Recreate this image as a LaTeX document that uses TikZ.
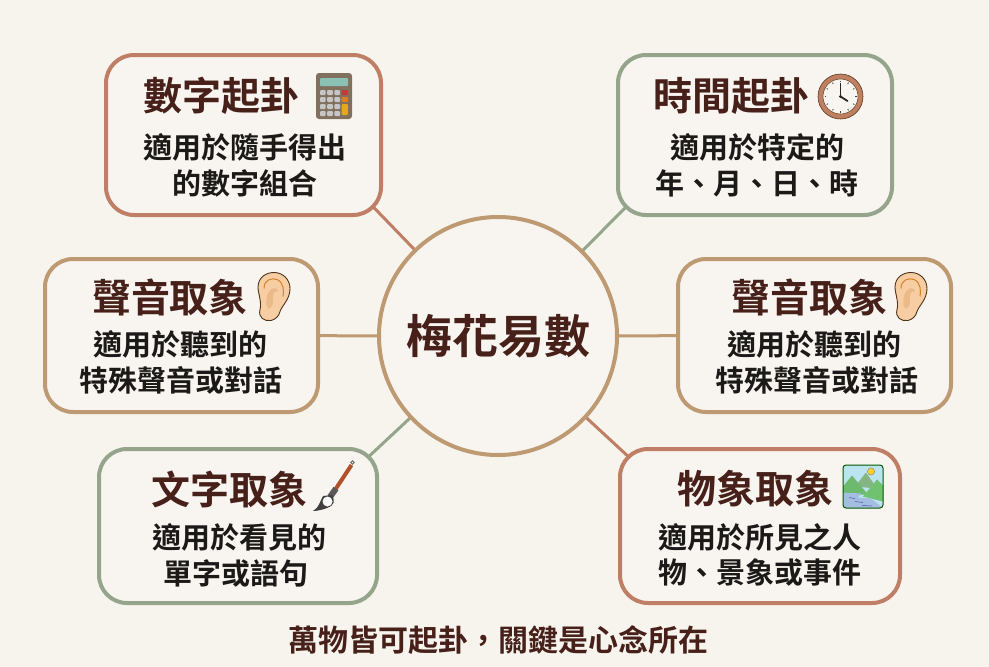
\documentclass[tikz,border=0pt]{standalone}
\usepackage{fontspec}
\setmainfont{Noto Sans CJK TC}[BoldFont={Noto Sans CJK TC Bold}]
\usetikzlibrary{backgrounds}
\definecolor{paper}{HTML}{F7F4EE}
\definecolor{cardfill}{HTML}{F8F5F0}
\definecolor{clay}{HTML}{BF7F66}
\definecolor{tan}{HTML}{BE9A73}
\definecolor{sage}{HTML}{95A58B}
\definecolor{titleink}{HTML}{47201A}
\definecolor{bodyink}{HTML}{1C1A18}
\tikzset{
  card/.style={draw=#1,fill=cardfill,line width=4pt,rounded corners=28pt,inner sep=0pt,anchor=center},
  link/.style={draw=#1,line width=3pt},
  headline/.style={text=titleink,font=\fontsize{39}{39}\selectfont\bfseries,inner sep=0pt,anchor=center},
  detail/.style={text=bodyink,font=\fontsize{29}{29}\selectfont\bfseries,inner sep=0pt,anchor=center},
  hub/.style={circle,draw=tan,fill=cardfill,line width=4pt,minimum size=238pt,inner sep=0pt},
  calcicon/.pic={
    \fill[rounded corners=3pt,fill=black!60!brown!70] (-18,-23) rectangle (18,23);
    \fill[rounded corners=1pt,fill=green!25!cyan!30!gray!70] (-14,-18) rectangle (14,-10);
    \foreach \r in {0,1,2,3}{\foreach \c in {0,1,2}{
      \fill[rounded corners=1pt,fill=gray!45] (-14+\c*7.2,-6+\r*7) rectangle ++(5.6,5);}}
    \fill[rounded corners=1pt,fill=red!55!gray] (7.6,-6) rectangle ++(6.2,5);
    \fill[rounded corners=1pt,fill=orange!75!gray] (7.6,1) rectangle ++(6.2,5);
    \fill[rounded corners=1pt,fill=orange!60!yellow!80!gray] (7.6,8) rectangle (13.8,19);
  },
  clockicon/.pic={
    \fill[fill=clay!85!brown,draw=black!55!brown,line width=.6pt] (0,0) circle (22.5);
    \fill[fill=cardfill,draw=black!50!brown,line width=.5pt] (0,0) circle (17.5);
    \foreach \a in {0,30,...,330}{
      \draw[line width=.8pt,black!75] (\a:14.5) -- (\a:16);}
    \draw[line width=1.4pt,black!85,line cap=round] (0,0) -- (0,-13);
    \draw[line width=1.8pt,black!85,line cap=round] (0,0) -- (7,4.5);
    \fill[black!85] (0,0) circle (1.6);
  },
  earicon/.pic={
    \draw[fill=orange!30!cardfill!95!brown,draw=black!60!brown,line width=.9pt]
      (-3,24) .. controls (-10,25) and (-16,21) .. (-14,13)
      .. controls (-12,6) and (-16,-4) .. (-16,-9)
      .. controls (-16,-20) and (-7,-24) .. (0,-24)
      .. controls (9,-24) and (16,-17) .. (16,-8)
      .. controls (16,3) and (8,9) .. (6,15)
      .. controls (5,20) and (1,23) .. (-3,24) -- cycle;
    \draw[draw=brown!65!orange,line width=1pt]
      (-10,-8) .. controls (-10,-17) and (-2,-19) .. (3,-17)
      .. controls (10,-14) and (10,-5) .. (9,0);
    \fill[orange!45!brown!50!cardfill]
      (-6,12) .. controls (-9,8) and (-8,0) .. (-5,-5)
      .. controls (-2,-10) and (4,-9) .. (4,-5)
      .. controls (0,-6) and (-2,-2) .. (-1,2)
      .. controls (0,7) and (-3,13) .. (-6,12) -- cycle;
  },
  brushicon/.pic={
    \draw[line width=.8pt,black!60,fill=cardfill] (13.5,-23.5) circle (1.7);
    \draw[line width=4pt,draw=brown!75!red!85!black] (12.5,-21) -- (-4,4);
    \draw[line width=6pt,draw=black!65] (-3,2.5) -- (-9,11);
    \fill[black!75] (-7,9) .. controls (-4,15) and (-4,19) .. (-12,22)
      .. controls (-15,23.5) and (-22,25) .. (-26,25)
      .. controls (-20,22) and (-19,15) .. (-16,10) -- cycle;
    \fill[white!95!gray] (-11.5,15.5) circle (5);
  },
  sceneicon/.pic={
    \begin{scope}
      \clip[rounded corners=3pt] (-20,-21.5) rectangle (20,21.5);
      \fill[cyan!25!cardfill] (-20,-21.5) rectangle (20,21.5);
      \fill[yellow!60!orange!85!white,draw=black!50,line width=.4pt] (8,-15) circle (3.6);
      \fill[green!25!gray!75!cardfill] (-8,0) -- (3,-14) -- (14,2) -- cycle;
      \fill[green!35!gray!85] (-20,0) -- (-11,-11) -- (5,8) -- (-20,8) -- cycle;
      \fill[green!40!gray!80] (0,10) -- (14,-7) -- (20,-1) -- (20,15) -- cycle;
      \fill[cyan!55!blue!35!cardfill] (-20,6) -- (-2,7) -- (-5,11) -- (8,12) -- (20,21.5) -- (-20,21.5) -- cycle;
      \draw[line width=.5pt,blue!40!gray] (-14,11) -- (-8,12) (-8,15) -- (0,16) (-1,19) -- (9,19.5);
    \end{scope}
    \draw[rounded corners=3pt,line width=1pt,black!65!green] (-20,-21.5) rectangle (20,21.5);
  },
}
\begin{document}
\begin{tikzpicture}[x=1pt,y=-1pt]
  \useasboundingbox (0,0) rectangle (989,667);

  % Central hub
  \node[hub] (hubnode) at (498,336) {};
  \node[text=titleink,font=\fontsize{46}{46}\selectfont\bfseries,inner sep=0pt] (hubtext) at (498.5,336) {梅花易數};

  % Method cards
  \node[card=clay,minimum width=275pt,minimum height=160pt] (numcard) at (243.5,135) {};
  \node[card=sage,minimum width=274pt,minimum height=160pt] (timecard) at (755,135) {};
  \node[card=tan,minimum width=273pt,minimum height=153pt] (soundleft) at (181.5,335.5) {};
  \node[card=tan,minimum width=273pt,minimum height=153pt] (soundright) at (814.5,335.5) {};
  \node[card=sage,minimum width=278pt,minimum height=154pt] (wordcard) at (238,526) {};
  \node[card=clay,minimum width=280pt,minimum height=154pt] (thingcard) at (760,526) {};

  % Connectors run under the cards and the hub
  \begin{scope}[on background layer]
    \fill[paper] (0,0) rectangle (989,667);
    \draw[link=clay,shorten >=-14pt] (hubnode.center) -- (numcard.south east);
    \draw[link=sage,shorten >=-14pt] (hubnode.center) -- (timecard.south west);
    \draw[link=tan] (hubnode) -- (soundleft);
    \draw[link=tan] (hubnode) -- (soundright);
    \draw[link=sage,shorten >=-14pt] (hubnode.center) -- (wordcard.north east);
    \draw[link=clay,shorten >=-14pt] (hubnode.center) -- (thingcard.north west);
  \end{scope}

  % Card texts
  \node[headline] (numtitle) at (221.5,96) {數字起卦};
  \node[detail] (numa) at (245,147) {適用於隨手得出};
  \node[detail] (numb) at (245,183) {的數字組合};

  \node[headline] (timetitle) at (731,96) {時間起卦};
  \node[detail] (timea) at (757,147) {適用於特定的};
  \node[detail] (timeb) at (757,183) {年、月、日、時};

  \node[headline] (soundltitle) at (170,297) {聲音取象};
  \node[detail] (soundla) at (180.5,344) {適用於聽到的};
  \node[detail] (soundlb) at (181,380) {特殊聲音或對話};

  \node[headline] (soundrtitle) at (809,297) {聲音取象};
  \node[detail] (soundra) at (814,344) {適用於聽到的};
  \node[detail] (soundrb) at (817,380) {特殊聲音或對話};

  \node[headline] (wordtitle) at (229,489) {文字取象};
  \node[detail] (worda) at (239,537) {適用於看見的};
  \node[detail] (wordb) at (236,573) {單字或語句};

  \node[headline] (thingtitle) at (755,489) {物象取象};
  \node[detail] (thinga) at (760,537) {適用於所見之人};
  \node[detail] (thingb) at (760,573) {物、景象或事件};

  % Footer line
  \node[text=titleink,font=\fontsize{30}{30}\selectfont\bfseries,inner sep=0pt] (footer) at (498,640) {萬物皆可起卦，關鍵是心念所在};

  % Icons beside the card titles
  \pic at (334,96) {calcicon};
  \pic at (840.5,96.5) {clockicon};
  \pic at (274,296.5) {earicon};
  \pic at (911,296.5) {earicon};
  \pic at (339,486) {brushicon};
  \pic at (863,486.5) {sceneicon};
\end{tikzpicture}
\end{document}
